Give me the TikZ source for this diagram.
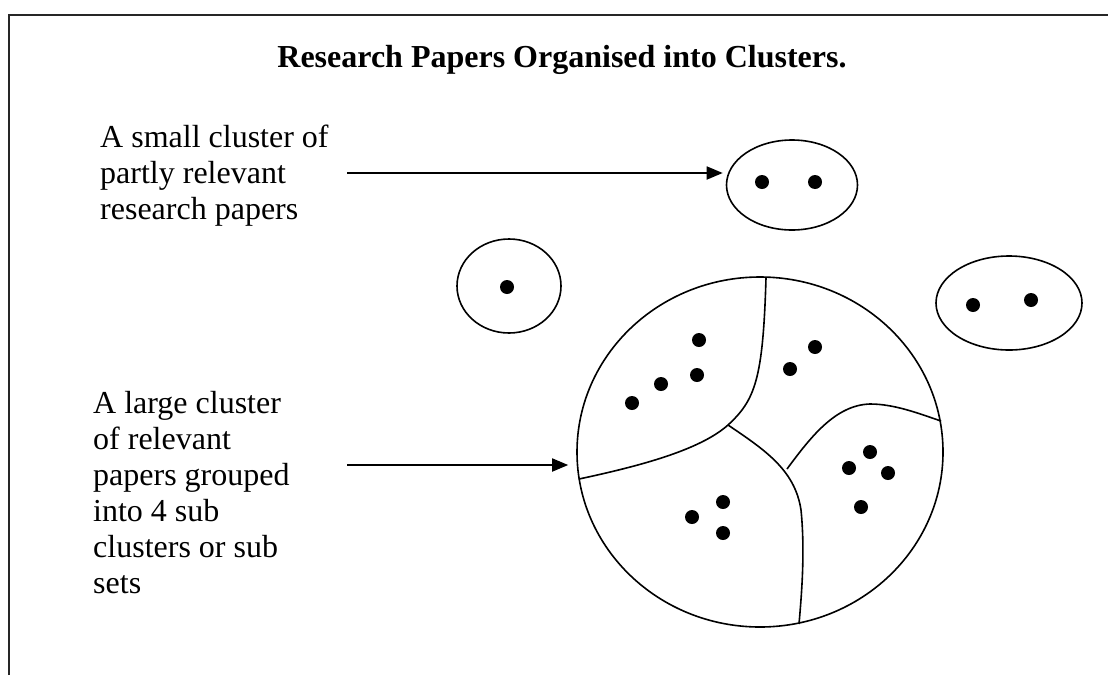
\documentclass[tikz,border=0pt]{standalone}
\usepackage{fontspec}
\setmainfont{Liberation Serif}
\usetikzlibrary{arrows.meta,shapes.geometric}
\begin{document}
\begin{tikzpicture}[x=1pt,y=-1pt,
  frameline/.style={line width=2pt,black!85},
  shapeline/.style={line width=1.6pt},
  clusterbox/.style={draw,ellipse,shapeline,inner sep=0pt},
  paperdot/.style={circle,fill=black,inner sep=0pt,minimum size=14pt},
  pointer/.style={line width=1.8pt,-{Triangle[length=16pt,width=13pt]}},
  label/.style={font=\fontsize{32}{36}\selectfont,align=left,inner sep=0pt,anchor=base west},
]
\useasboundingbox (0,0) rectangle (1108,675);
% frame (top and left edges)
\draw[frameline] (9,675) -- (9,15) -- (1108,15);
% title
\node[font=\fontsize{32}{36}\selectfont\bfseries,inner sep=0pt,anchor=base] (title) at (562,67) {Research Papers Organised into Clusters.};
% labels (base anchor = baseline of last line)
\node[label] (lsmall) at (100,219) {A small cluster of\\partly relevant\\research papers};
\node[label] (llarge) at (93,593) {A large cluster\\of relevant\\papers grouped\\into 4 sub\\clusters or sub\\sets};
% small clusters
\node[clusterbox,minimum width=131pt,minimum height=90pt] (ctop) at (792,185) {};
\node[clusterbox,minimum width=104pt,minimum height=94pt] (cleft) at (509,286) {};
\node[clusterbox,minimum width=146pt,minimum height=94pt] (cright) at (1009,303) {};
\node[paperdot] (t1) at (762,182) {};
\node[paperdot] (t2) at (815,182) {};
\node[paperdot] (l1) at (507,287) {};
\node[paperdot] (r1) at (973,305) {};
\node[paperdot] (r2) at (1031,300) {};
% large cluster
\node[clusterbox,minimum width=366pt,minimum height=350pt] (big) at (760,452) {};
\draw[shapeline] (766,278) .. controls (763,380) and (755,400) .. (728,425)
  .. controls (700,450) and (640,466) .. (579,479);
\draw[shapeline] (728,425) .. controls (765,450) and (795,470) .. (801,510)
  .. controls (805,550) and (802,590) .. (799,624);
\draw[shapeline] (787,469) .. controls (810,438) and (835,405) .. (870,404)
  .. controls (895,404) and (920,414) .. (941,421);
% dots in sub clusters
\node[paperdot] (a1) at (699,340) {};
\node[paperdot] (a2) at (697,375) {};
\node[paperdot] (a3) at (661,384) {};
\node[paperdot] (a4) at (632,403) {};
\node[paperdot] (b1) at (815,347) {};
\node[paperdot] (b2) at (790,369) {};
\node[paperdot] (c1) at (870,452) {};
\node[paperdot] (c2) at (849,468) {};
\node[paperdot] (c3) at (888,473) {};
\node[paperdot] (c4) at (861,507) {};
\node[paperdot] (d1) at (723,502) {};
\node[paperdot] (d2) at (692,517) {};
\node[paperdot] (d3) at (723,533) {};
% arrows
\coordinate (s1) at (347,173);
\coordinate (s2) at (347,465);
\draw[pointer,shorten >=3pt] (s1) -- (s1 -| ctop.west);
\draw[pointer,shorten >=8pt] (s2) -- (s2 -| big.west);
\end{tikzpicture}
\end{document}
